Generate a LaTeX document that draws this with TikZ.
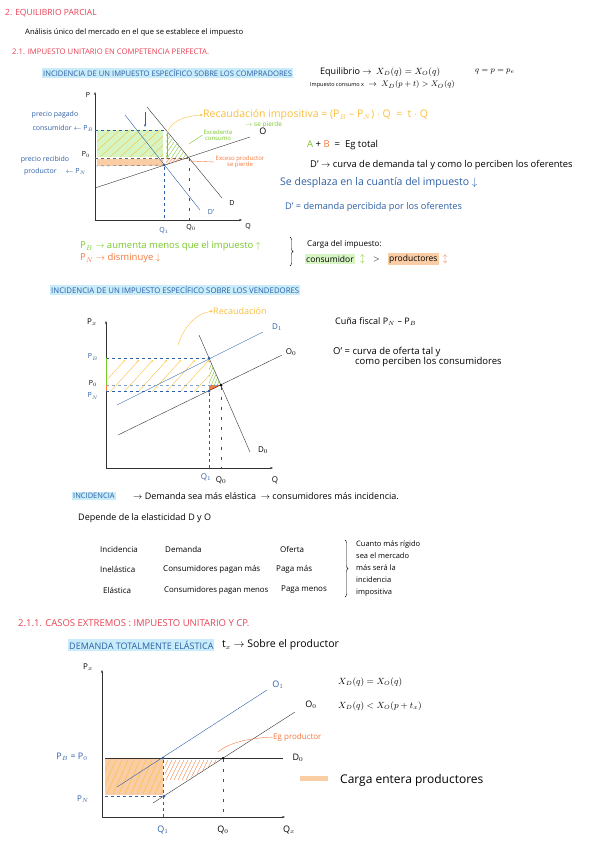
\documentclass[tikz,border=0pt]{standalone}
\usepackage{fontspec}
\setmainfont{Open Sans}
\usetikzlibrary{positioning,arrows.meta,decorations.pathreplacing}

\definecolor{rojo}{RGB}{232,64,84}
\definecolor{azul}{RGB}{45,95,165}
\definecolor{azulclaro}{RGB}{200,236,250}
\definecolor{naranja}{RGB}{245,120,60}
\definecolor{naranjaclaro}{RGB}{250,205,165}
\definecolor{amarillo}{RGB}{250,190,60}
\definecolor{verde}{RGB}{120,200,40}
\definecolor{verdeclaro}{RGB}{215,245,195}
\newcommand{\tam}[1]{\fontsize{#1}{#1}\selectfont}

\begin{document}
\begin{tikzpicture}[
  x=1pt, y=-1pt,
  txt/.style={anchor=west, inner sep=0pt, font=\tam{7}},
  titulo/.style={txt, text=rojo},
  resalte/.style={txt, text=azul, fill=azulclaro, inner xsep=1pt, inner ysep=1.5pt},
  lab/.style={inner sep=1pt, font=\tam{7}},
  eje/.style={-{Stealth[length=3pt]}, thin, draw=black!80},
  curva/.style={thin, draw=black!80},
  curvaz/.style={thin, draw=azul},
  guia/.style={dashed, thin, draw=azul},
  guian/.style={dash pattern=on 3pt off 7pt, thin, draw=black!70},
  punto/.style={circle, fill=azul, inner sep=0pt, minimum size=3pt},
  llave/.style={decorate, decoration={brace, amplitude=3pt}, thin}
]
  \useasboundingbox (0,0) rectangle (600,848);

  % Encabezado
  \node[titulo, font=\tam{8.5}] (t1) at (5,13) {2. EQUILIBRIO PARCIAL};
  \node[txt, font=\tam{7.6}] (t2) at (25,33) {Análisis único del mercado en el que se establece el impuesto};
  \node[titulo, font=\tam{7.7}] (t3) at (12,52) {2.1. IMPUESTO UNITARIO EN COMPETENCIA PERFECTA.};
  \node[resalte, font=\tam{7.6}] (t4) at (42,73) {INCIDENCIA DE UN IMPUESTO ESPECÍFICO SOBRE LOS COMPRADORES};
  \node[txt, font=\tam{9}] (eq1) at (320,72) {Equilibrio $\rightarrow$ \ $X_D(q) = X_O(q)$};
  \node[txt, font=\tam{8}] (eq2) at (475,72) {$q = p = p_e$};
  \node[txt, font=\tam{8.5}] (eq3) at (310,85) {{\tam{5.5}Impuesto consumo x} \ $\rightarrow$ \ $X_D(p+t) > X_O(q)$};

  % Grafico 1: impuesto sobre los compradores
  \fill[verdeclaro] (97,130) rectangle (163,157);
  \fill[naranjaclaro] (97,159) rectangle (163,166);
  \begin{scope}
    \clip (97,130) rectangle (163,157);
    \foreach \i in {0,10,...,110}
      \draw[amarillo, thin] ({80+\i},157) -- ({110+\i},130);
  \end{scope}
  \begin{scope}
    \clip (166,132) -- (166,158) -- (189,158) -- cycle;
    \foreach \i in {0,4,...,40}
      \draw[verde, thin] ({150+\i},160) -- ({170+\i},130);
  \end{scope}
  \begin{scope}
    \clip (166,158) -- (189,158) -- (166,165) -- cycle;
    \foreach \i in {0,3,...,24}
      \draw[naranja, thin] ({160+\i},166) -- ({168+\i},157);
  \end{scope}

  \coordinate (o1) at (95,220);
  \coordinate (ey1) at (95,92);
  \coordinate (ex1) at (242,220);
  \draw[eje] (o1) -- (ey1);
  \draw[eje] (o1) -- (ex1);

  \coordinate (da) at (147,107);
  \coordinate (db) at (222,198);
  \coordinate (dpa) at (125,115);
  \coordinate (dpb) at (200,210);
  \coordinate (oa) at (95,188);
  \coordinate (ob) at (250,137);
  \draw[curva] (da) -- (db);
  \draw[curvaz] (dpa) -- (dpb);
  \draw[curva] (oa) -- (ob);

  \node[punto] (e1) at (164,165) {};
  \coordinate (pb1) at (95,130);
  \coordinate (pbq) at (166,130);
  \coordinate (p01) at (95,158);
  \coordinate (e0) at (189,158);
  \coordinate (pn1) at (95,166);
  \coordinate (q11) at (164,220);
  \coordinate (q01) at (189,220);
  \draw[guia] (pb1) -- (pbq);
  \draw[dashed, thin, draw=black!60] (p01) -- (e0);
  \draw[guia] (pn1) -- (e1);
  \draw[guia] (e1) -- (q11);
  \draw[guian] (e0) -- (q01);

  \coordinate (ga) at (167,133);
  \coordinate (gb) at (167,158);
  \draw[verde, thick, -{Stealth[length=3pt]}] (ga) -- (gb);
  \coordinate (fa) at (145,112);
  \coordinate (fb) at (145,127);
  \draw[azul, thin, -{Stealth[length=3pt]}] (fa) -- (fb);

  \node[lab] (p1) at (88,95) {P};
  \node[lab, text=azul, font=\tam{7}] (pg1) at (55,115) {precio pagado};
  \node[lab, text=azul, font=\tam{7}] (pg2) at (63,128) {consumidor $\leftarrow$ P$_B$};
  \node[lab] (p0) at (86,155) {P$_0$};
  \node[lab, text=azul, font=\tam{7}] (pr1) at (45,160) {precio recibido};
  \node[lab, text=azul, font=\tam{7}] (pr2) at (55,172) {productor \quad $\leftarrow$ P$_N$};
  \node[lab] (dl) at (232,203) {D};
  \node[lab, text=azul] (dpl) at (211,212) {D'};
  \node[lab, font=\tam{9}] (ol) at (263,131) {O};
  \node[lab] (ql) at (248,227) {Q};
  \node[lab, text=azul] (q1l) at (164,231) {Q$_1$};
  \node[lab] (q0l) at (191,228) {Q$_0$};

  \node[txt, text=amarillo, font=\tam{10.5}] (rec) at (203,115) {Recaudación impositiva = (P$_B$ -- P$_N$) $\cdot$ Q \ = \ t $\cdot$ Q};
  \draw[amarillo, thin, -{Stealth[length=3pt]}] (ga) .. controls (172,120) and (185,116) .. (rec.west);
  \node[txt, text=verde, font=\tam{6.5}] (sep1) at (245,125) {$\rightarrow$ se pierde};
  \node[lab, text=verde, align=center, font=\tam{6}] (exc) at (218,135) {Excedente\\consumo};
  \coordinate (ecp) at (189,144);
  \draw[verde, thin] (ecp) .. controls (195,140) .. (exc.west);
  \node[lab, text=naranja, align=center, font=\tam{6}] (exp) at (240,162) {Exceso productor\\se pierde};
  \coordinate (epp) at (190,161);
  \draw[naranja, thin] (epp) -- (exp.west);

  % Notas del grafico 1
  \node[txt, font=\tam{9.5}] (eg) at (307,145) {\textcolor{verde}{A} + \textcolor{naranja}{B} \ = \ Eg total};
  \node[txt, font=\tam{9.4}] (dpc) at (310,165) {D' $\rightarrow$ curva de demanda tal y como lo perciben los oferentes};
  \node[txt, text=azul, font=\tam{10.5}] (desp) at (280,183) {Se desplaza en la cuantía del impuesto $\downarrow$};
  \node[txt, text=azul, font=\tam{9.2}] (dper) at (285,207) {D' = demanda percibida por los oferentes};
  \node[txt, text=verde, font=\tam{9.5}] (pbt) at (80,246) {P$_B$ $\rightarrow$ aumenta menos que el impuesto $\uparrow$};
  \node[txt, text=naranja, font=\tam{9.5}] (pnt) at (80,258) {P$_N$ $\rightarrow$ disminuye $\downarrow$};
  \coordinate (ll1a) at (290,237);
  \coordinate (ll1b) at (290,266);
  \draw[llave] (ll1a) -- (ll1b);
  \node[txt, font=\tam{8}] (carga) at (307,244) {Carga del impuesto:};
  \node[txt, font=\tam{8.5}, fill=verdeclaro, inner xsep=1pt, inner ysep=1.5pt] (cons) at (305,259) {consumidor};
  \node[txt, text=verde, font=\tam{9}, right=5pt of cons] (fc) {$\updownarrow$};
  \node[txt, font=\tam{8}, right=8pt of fc] (mayor) {$>$};
  \node[txt, font=\tam{8.5}, fill=naranjaclaro, inner xsep=1pt, inner ysep=1.5pt, right=8pt of mayor] (prod) {productores};
  \node[txt, text=naranja, font=\tam{9}, right=4pt of prod] (fp) {$\updownarrow$};

  % Grafico 2: impuesto sobre los vendedores
  \node[resalte, font=\tam{7.8}] (t5) at (50,290) {INCIDENCIA DE UN IMPUESTO ESPECÍFICO SOBRE LOS VENDEDORES};

  \begin{scope}
    \clip (108,358) rectangle (209,391);
    \foreach \i in {0,14,...,140}
      \draw[amarillo, thin, -{Stealth[length=2pt]}] ({95+\i},393) -- ({125+\i},360);
  \end{scope}
  \begin{scope}
    \clip (209,358) -- (209,385) -- (221,385) -- cycle;
    \foreach \i in {0,3,...,30}
      \draw[verde, thin] ({198+\i},388) -- ({212+\i},356);
  \end{scope}
  \fill[naranja] (209,385) -- (221,385) -- (209,391) -- cycle;

  \coordinate (o2) at (106,468);
  \coordinate (ey2) at (106,321);
  \coordinate (ex2) at (273,468);
  \draw[eje] (o2) -- (ey2);
  \draw[eje] (o2) -- (ex2);

  \coordinate (d0a) at (199,335);
  \coordinate (d0b) at (250,452);
  \coordinate (d1a) at (117,405);
  \coordinate (d1b) at (263,332);
  \coordinate (o0a) at (118,435);
  \coordinate (o0b) at (282,355);
  \draw[curva] (d0a) -- (d0b);
  \draw[curvaz] (d1a) -- (d1b);
  \draw[curva] (o0a) -- (o0b);

  \node[punto] (eb2) at (209,358) {};
  \node[punto] (en2) at (209,391) {};
  \node[punto, fill=black] (e02) at (221,385) {};
  \coordinate (pb2) at (106,358);
  \coordinate (p02) at (106,385);
  \coordinate (pn2) at (106,391);
  \coordinate (q12) at (209,468);
  \coordinate (q02) at (221,468);
  \draw[guia] (pb2) -- (eb2);
  \draw[dashed, thin, draw=azul!60] (p02) -- (e02);
  \draw[guia] (pn2) -- (en2);
  \draw[guia] (en2) -- (q12);
  \draw[guian] (e02) -- (q02);
  \draw[verde, thick] (pb2) -- (p02);
  \draw[naranja, thick] (p02) -- (pn2);

  \node[lab, font=\tam{8}] (px2) at (92,322) {P$_x$};
  \node[lab, text=azul] (pbl2) at (93,357) {P$_B$};
  \node[lab] (p0l2) at (93,383) {P$_0$};
  \node[lab, text=azul] (pnl2) at (93,396) {P$_N$};
  \node[lab, text=azul, font=\tam{8}] (q1l2) at (206,477) {Q$_1$};
  \node[lab, font=\tam{8}] (q0l2) at (221,480) {Q$_0$};
  \node[lab, font=\tam{8}] (ql2) at (275,480) {Q};
  \node[lab, text=azul, font=\tam{8}] (d1l) at (277,327) {D$_1$};
  \node[lab, font=\tam{8}] (o0l) at (291,352) {O$_0$};
  \node[lab, font=\tam{8}] (d0l) at (263,450) {D$_0$};
  \node[txt, text=amarillo, font=\tam{9}] (rec2) at (213,311) {Recaudación};
  \coordinate (r2a) at (178,345);
  \draw[amarillo, thin, -{Stealth[length=3pt]}] (r2a) .. controls (184,326) and (197,313) .. (rec2.west);

  \node[txt, font=\tam{9}] (cuna) at (335,322) {Cuña fiscal P$_N$ -- P$_B$};
  \node[txt, font=\tam{9.5}] (ocur) at (333,352) {O' = curva de oferta tal y};
  \node[txt, font=\tam{9.5}] (ocur2) at (355,362) {como perciben los consumidores};

  % Incidencia y elasticidad
  \node[resalte, font=\tam{7.5}] (inc) at (72,496) {INCIDENCIA};
  \node[txt, font=\tam{9}] (inct) at (133,496) {$\rightarrow$ Demanda sea más elástica \ $\rightarrow$ consumidores más incidencia.};
  \node[txt, font=\tam{9}] (dep) at (78,518) {Depende de la elasticidad D y O};
  \node[txt, font=\tam{8}] (c11) at (100,549) {Incidencia};
  \node[txt, font=\tam{8}] (c12) at (165,549) {Demanda};
  \node[txt, font=\tam{8}] (c13) at (280,549) {Oferta};
  \node[txt, font=\tam{8}] (c21) at (100,569) {Inelástica};
  \node[txt, font=\tam{8}] (c22) at (163,569) {Consumidores pagan más};
  \node[txt, font=\tam{8}] (c23) at (276,569) {Paga más};
  \node[txt, font=\tam{8}] (c31) at (103,590) {Elástica};
  \node[txt, font=\tam{7.8}] (c32) at (164,590) {Consumidores pagan menos};
  \node[txt, font=\tam{8}] (c33) at (281,590) {Paga menos};
  \coordinate (ll2a) at (345,540);
  \coordinate (ll2b) at (345,597);
  \draw[llave] (ll2a) -- (ll2b);
  \node[txt, align=left, font=\fontsize{7.5}{12}\selectfont] (rig) at (356,569) {Cuanto más rígido\\sea el mercado\\más será la\\incidencia\\impositiva};

  % Casos extremos
  \node[titulo, font=\tam{9.5}] (t6) at (18,623) {2.1.1. CASOS EXTREMOS : IMPUESTO UNITARIO Y CP.};
  \node[resalte, font=\tam{9}] (t7) at (68,645) {DEMANDA TOTALMENTE ELÁSTICA};
  \node[txt, font=\tam{10.5}] (tx) at (222,645) {t$_x$ $\rightarrow$ Sobre el productor};

  % Grafico 3: demanda totalmente elastica
  \fill[naranjaclaro] (105,758) rectangle (163,795);
  \begin{scope}
    \clip (105,758) rectangle (163,795);
    \foreach \i in {0,6,...,72}
      \draw[amarillo, thin] ({95+\i},794) -- ({110+\i},760);
  \end{scope}
  \begin{scope}
    \clip (165,759) -- (222,759) -- (165,793) -- cycle;
    \foreach \i in {0,4,...,60}
      \draw[naranja, thin] ({150+\i},780) -- ({160+\i},760);
  \end{scope}

  \coordinate (o3) at (102,817);
  \coordinate (ey3) at (102,670);
  \coordinate (ex3) at (285,817);
  \draw[eje] (o3) -- (ey3);
  \draw[eje] (o3) -- (ex3);

  \coordinate (d3a) at (105,758);
  \coordinate (d3b) at (283,758);
  \coordinate (o1a) at (117,787);
  \coordinate (o1b) at (267,690);
  \coordinate (o3a) at (153,803);
  \coordinate (o3b) at (295,712);
  \draw[curva] (d3a) -- (d3b);
  \draw[curvaz] (o1a) -- (o1b);
  \draw[curva] (o3a) -- (o3b);

  \node[punto] (eb3) at (163,758) {};
  \node[punto] (en3) at (164,796) {};
  \node[punto, fill=black, minimum size=2.5pt] (e03) at (223,758) {};
  \coordinate (pn3) at (105,796);
  \coordinate (q13) at (163,817);
  \coordinate (q03) at (223,817);
  \draw[guia] (pn3) -- (en3);
  \draw[guia] (eb3) -- (q13);
  \draw[guian] (e03) -- (q03);

  \node[lab, font=\tam{8}] (px3) at (88,667) {P$_x$};
  \node[lab, text=azul, font=\tam{9}] (pbl3) at (72,757) {P$_B$ = P$_0$};
  \node[lab, text=azul, font=\tam{8}] (pnl3) at (83,799) {P$_N$};
  \node[lab, text=azul, font=\tam{9}] (q1l3) at (163,830) {Q$_1$};
  \node[lab, font=\tam{9}] (q0l3) at (223,830) {Q$_0$};
  \node[lab, font=\tam{9}] (qxl3) at (289,830) {Q$_x$};
  \node[lab, text=azul, font=\tam{9}] (o1l) at (278,685) {O$_1$};
  \node[lab, font=\tam{9}] (o0l3) at (311,705) {O$_0$};
  \node[lab, font=\tam{9}] (d0l3) at (298,758) {D$_0$};
  \node[txt, text=naranja, font=\tam{8}] (egp) at (273,737) {Eg productor};
  \coordinate (egq) at (218,752);
  \draw[naranja, thin] (egq) .. controls (230,742) and (250,738) .. (egp.west);

  \node[txt, font=\tam{9}] (xd1) at (338,682) {$X_D(q) = X_O(q)$};
  \node[txt, font=\tam{9}] (xd2) at (338,706) {$X_D(q) < X_O(p+t_x)$};
  \coordinate (lega) at (300,778);
  \coordinate (legb) at (328,778);
  \draw[naranjaclaro, line width=5pt] (lega) -- (legb);
  \node[txt, font=\tam{12}] (carg) at (340,780) {Carga entera productores};

\end{tikzpicture}
\end{document}
